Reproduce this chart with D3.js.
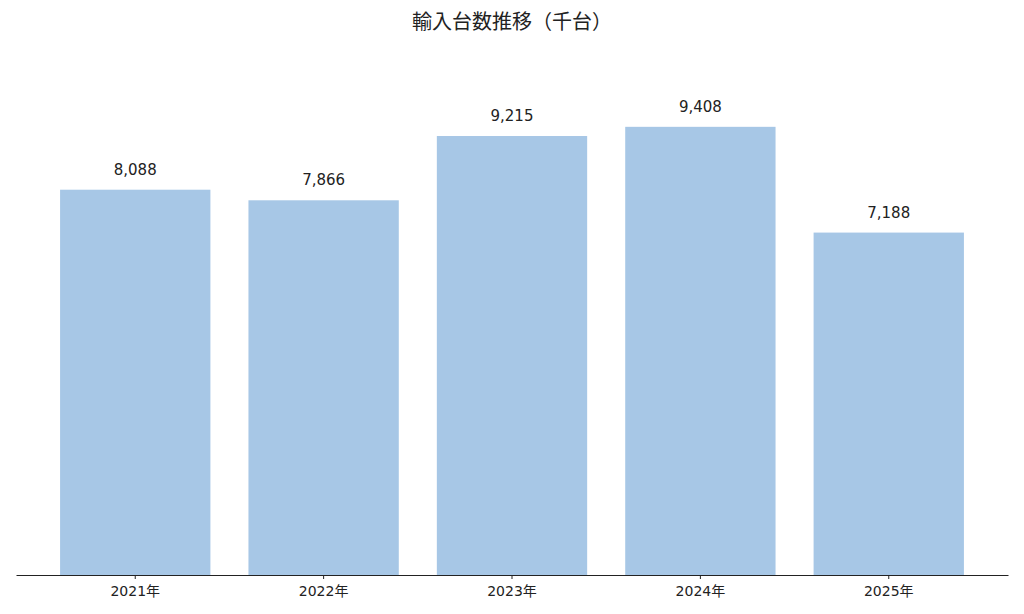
<!DOCTYPE html>
<html><head><meta charset="utf-8">
<script src="https://cdn.jsdelivr.net/npm/d3@7"></script>
<style>body{margin:0;background:#fff}svg{display:block;font-family:"DejaVu Sans","Noto Sans CJK JP",sans-serif}</style>
</head><body>
<svg id="c" width="1024" height="614"></svg>
<script>
const categories = ["2021年","2022年","2023年","2024年","2025年"];
const values = [8088, 7866, 9215, 9408, 7188];
const title = "輸入台数推移（千台）";

const svg = d3.select("#c");
const x = d3.scaleBand().domain(categories).range([16, 1008]).paddingInner(0.202).paddingOuter(0.234);
const y = d3.scaleLinear().domain([0, 10349]).range([575, 82]);

svg.append("text").attr("x", 512).attr("y", 29).attr("text-anchor", "middle")
  .attr("font-family", '"Noto Sans CJK JP",sans-serif')
  .attr("font-size", 20).attr("fill", "#222").text(title);

svg.selectAll("rect.bar").data(values).join("rect").attr("class","bar")
  .attr("x", (d,i) => x(categories[i])).attr("width", x.bandwidth())
  .attr("y", d => y(d)).attr("height", d => y(0) - y(d)).attr("fill", "#a7c7e6");

const fmt = d3.format(",");
svg.selectAll("text.val").data(values).join("text").attr("class","val")
  .attr("x", (d,i) => x(categories[i]) + x.bandwidth()/2).attr("y", d => y(d) - 15)
  .attr("text-anchor","middle").attr("font-size", 15).attr("fill", "#222").text(d => fmt(d));

const ax = svg.append("g").attr("transform", "translate(0,575)")
  .call(d3.axisBottom(x).tickSize(4).tickPadding(7).tickSizeOuter(0));
ax.select(".domain").attr("stroke", "#222");
ax.selectAll(".tick line").attr("stroke", "#222");
ax.selectAll(".tick text").attr("font-size", 14).attr("fill", "#222")
  .attr("font-family", '"DejaVu Sans","Noto Sans CJK JP",sans-serif');
</script>
</body></html>
